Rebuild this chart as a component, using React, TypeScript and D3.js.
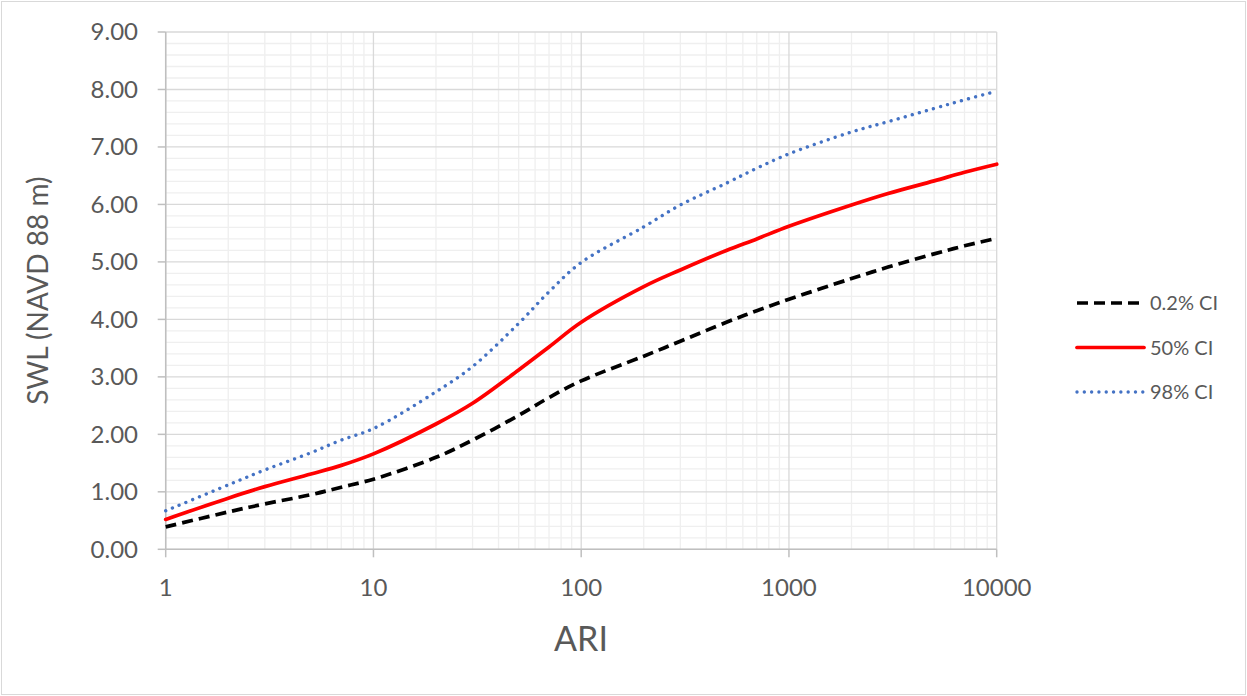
import React from "react";
import * as d3 from "d3";

const ari = [1, 2, 3, 5, 7, 10, 20, 30, 50, 70, 100, 200, 300, 500, 700, 1000, 2000, 3000, 5000, 7000, 10000];
const ci02 = [0.39, 0.65, 0.79, 0.95, 1.08, 1.22, 1.6, 1.9, 2.33, 2.64, 2.93, 3.36, 3.62, 3.95, 4.15, 4.35, 4.71, 4.91, 5.14, 5.28, 5.41];
const ci50 = [0.52, 0.89, 1.09, 1.31, 1.46, 1.66, 2.18, 2.54, 3.12, 3.52, 3.95, 4.57, 4.86, 5.2, 5.4, 5.62, 5.99, 6.19, 6.41, 6.56, 6.7];
const ci98 = [0.67, 1.12, 1.38, 1.68, 1.9, 2.1, 2.74, 3.18, 3.93, 4.48, 4.99, 5.61, 5.99, 6.37, 6.63, 6.88, 7.26, 7.44, 7.67, 7.82, 7.97];

const xTicks = [1, 10, 100, 1000, 10000];
const yTicks = [0, 1, 2, 3, 4, 5, 6, 7, 8, 9];
const seriesNames = ["0.2% CI", "50% CI", "98% CI"];

const W = 1247;
const H = 696;
const FONT = "Lato, 'Open Sans', sans-serif";
const TXT = "#595959";

export default function App() {
  const x = d3.scaleLog().domain([1, 10000]).range([165.7, 996.7]);
  const y = d3.scaleLinear().domain([0, 9]).range([549.3, 32]);

  const minorX: number[] = [];
  for (let d = 1; d < 10000; d *= 10) {
    for (let k = 2; k <= 9; k++) minorX.push(d * k);
  }
  const minorY: number[] = [];
  for (let i = 0; i < 45; i++) {
    if (i % 5 !== 0) minorY.push(i * 0.2);
  }

  const line = d3
    .line<[number, number]>()
    .x((d) => x(d[0]))
    .y((d) => y(d[1]))
    .curve(d3.curveCatmullRom.alpha(0.5));

  const series = [
    { name: seriesNames[0], vals: ci02, color: "#000000", width: 3.7, dash: "11,6", cap: "butt" },
    { name: seriesNames[1], vals: ci50, color: "#ff0000", width: 3.7, dash: "none", cap: "round" },
    { name: seriesNames[2], vals: ci98, color: "#4472c4", width: 3.4, dash: "0.01,7.3", cap: "round" },
  ];

  const x0 = x(1);
  const x1 = x(10000);
  const y0 = y(0);
  const y1 = y(9);

  return (
    <div style={{ position: "absolute", left: 0, top: 0 }}>
      <svg width={W} height={H} style={{ display: "block", background: "#fff" }}>
        <rect x={1.5} y={1.5} width={W - 3} height={H - 3} fill="#fff" stroke="#d9d9d9" strokeWidth={1} />
        {minorX.map((v) => (
          <line key={"mx" + v} x1={x(v)} x2={x(v)} y1={y0} y2={y1} stroke="#efefef" strokeWidth={1.3} />
        ))}
        {minorY.map((v) => (
          <line key={"my" + v} x1={x0} x2={x1} y1={y(v)} y2={y(v)} stroke="#efefef" strokeWidth={1.3} />
        ))}
        {xTicks.map((v) => (
          <line key={"gx" + v} x1={x(v)} x2={x(v)} y1={y0} y2={y1} stroke="#d9d9d9" strokeWidth={1.3} />
        ))}
        {yTicks.map((v) => (
          <line key={"gy" + v} x1={x0} x2={x1} y1={y(v)} y2={y(v)} stroke="#d9d9d9" strokeWidth={1.3} />
        ))}
        <line x1={x0} x2={x0} y1={y0} y2={y1} stroke="#bfbfbf" strokeWidth={1.5} />
        <line x1={x0} x2={x1} y1={y0} y2={y0} stroke="#bfbfbf" strokeWidth={1.5} />
        {yTicks.map((v) => (
          <line key={"ty" + v} x1={x0 - 8} x2={x0} y1={y(v)} y2={y(v)} stroke="#bfbfbf" strokeWidth={1.5} />
        ))}
        {xTicks.map((v) => (
          <line key={"tx" + v} x1={x(v)} x2={x(v)} y1={y0} y2={y0 + 8} stroke="#bfbfbf" strokeWidth={1.5} />
        ))}
        {yTicks.map((v) => (
          <text key={"ly" + v} x={138} y={y(v)} dy="0.35em" textAnchor="end" fontFamily={FONT} fontSize={24} fill={TXT}>
            {v.toFixed(2)}
          </text>
        ))}
        {xTicks.map((v) => (
          <text key={"lx" + v} x={x(v)} y={588} dy="0.35em" textAnchor="middle" fontFamily={FONT} fontSize={24} fill={TXT}>
            {String(v)}
          </text>
        ))}
        <text x={581} y={639} dy="0.35em" textAnchor="middle" fontFamily={FONT} fontSize={34} fill={TXT}>
          ARI
        </text>
        <text
          transform={`translate(38,${(y0 + y1) / 2}) rotate(-90)`}
          dy="0.35em"
          textAnchor="middle"
          fontFamily={FONT}
          fontSize={28}
          fill={TXT}
        >
          SWL (NAVD 88 m)
        </text>
        {series.map((s) => (
          <path
            key={s.name}
            d={line(ari.map((a, i) => [a, s.vals[i]] as [number, number])) || ""}
            fill="none"
            stroke={s.color}
            strokeWidth={s.width}
            strokeDasharray={s.dash}
            strokeLinecap={s.cap as any}
          />
        ))}
        {series.map((s, i) => {
          const ly = 303 + i * 44.5;
          return (
            <g key={"lg" + s.name}>
              <line
                x1={1077}
                x2={1144}
                y1={ly}
                y2={ly}
                stroke={s.color}
                strokeWidth={s.width}
                strokeDasharray={s.dash}
                strokeLinecap={s.cap as any}
              />
              <text x={1150} y={ly} dy="0.35em" fontFamily={FONT} fontSize={20} fill={TXT}>
                {s.name}
              </text>
            </g>
          );
        })}
      </svg>
    </div>
  );
}
